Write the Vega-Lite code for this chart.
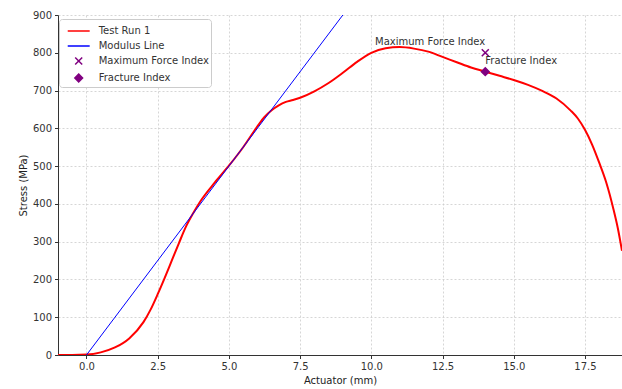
{
  "$schema": "https://vega.github.io/schema/vega-lite/v6.json",
  "width": 564,
  "height": 340,
  "autosize": {"type": "none"},
  "padding": {"left": 58, "top": 15, "right": 0, "bottom": 34},
  "background": "white",
  "config": {
    "font": "DejaVu Sans",
    "view": {"stroke": null},
    "axis": {
      "labelFontSize": 10,
      "titleFontSize": 10,
      "titleFontWeight": "normal",
      "labelColor": "#333",
      "titleColor": "#222",
      "gridColor": "#cccccc",
      "gridDash": [2, 2],
      "gridWidth": 0.8,
      "domainColor": "#333",
      "tickColor": "#333",
      "tickSize": 3.5,
      "labelPadding": 3
    },
    "legend": {
      "labelFontSize": 10,
      "labelColor": "#333",
      "orient": "none",
      "legendX": 1,
      "legendY": 4,
      "padding": 2,
      "strokeColor": "#cccccc",
      "fillColor": "white",
      "cornerRadius": 3,
      "rowPadding": -5.5,
      "symbolOffset": 7.7,
      "labelOffset": 10,
      "symbolSize": 324,
      "symbolStrokeWidth": 1.5
    }
  },
  "datasets": {
    "curve": [
      {"x": -1, "y": 0}, {"x": -0.5, "y": 0}, {"x": 0, "y": 1}, {"x": 0.5, "y": 7},
      {"x": 1, "y": 20}, {"x": 1.5, "y": 44}, {"x": 2, "y": 87}, {"x": 2.25, "y": 120}, {"x": 2.5, "y": 161},
      {"x": 2.75, "y": 205}, {"x": 3, "y": 251}, {"x": 3.25, "y": 297}, {"x": 3.5, "y": 341}, {"x": 3.75, "y": 376},
      {"x": 4, "y": 407}, {"x": 4.5, "y": 456},
      {"x": 5, "y": 501}, {"x": 5.5, "y": 550}, {"x": 6, "y": 605}, {"x": 6.25, "y": 630}, {"x": 6.5, "y": 648},
      {"x": 6.75, "y": 661}, {"x": 7, "y": 670}, {"x": 7.25, "y": 675}, {"x": 7.5, "y": 681}, {"x": 8, "y": 698}, {"x": 8.5, "y": 720},
      {"x": 9, "y": 747}, {"x": 9.5, "y": 776}, {"x": 10, "y": 800}, {"x": 10.5, "y": 812},
      {"x": 11, "y": 815}, {"x": 11.5, "y": 811}, {"x": 12, "y": 803}, {"x": 12.5, "y": 789},
      {"x": 13, "y": 775}, {"x": 13.5, "y": 761}, {"x": 14, "y": 750}, {"x": 14.5, "y": 739},
      {"x": 15, "y": 728}, {"x": 15.5, "y": 715}, {"x": 16, "y": 699}, {"x": 16.5, "y": 679},
      {"x": 17, "y": 647}, {"x": 17.25, "y": 626}, {"x": 17.5, "y": 596}, {"x": 17.75, "y": 557}, {"x": 18, "y": 509},
      {"x": 18.25, "y": 456}, {"x": 18.5, "y": 386}, {"x": 18.65, "y": 337}, {"x": 18.8, "y": 276}
    ],
    "modulus": [{"x": 0, "y": 0}, {"x": 9, "y": 900}],
    "markers": [
      {"x": 14, "y": 800, "series": "Maximum Force Index"},
      {"x": 14, "y": 750, "series": "Fracture Index"}
    ]
  },
  "encoding": {
    "x": {
      "field": "x", "type": "quantitative",
      "scale": {"domain": [-1, 18.8], "nice": false, "zero": false},
      "axis": {"title": "Actuator (mm)", "values": [0, 2.5, 5, 7.5, 10, 12.5, 15, 17.5], "format": ".1f"}
    },
    "y": {
      "field": "y", "type": "quantitative",
      "scale": {"domain": [0, 900], "nice": false},
      "axis": {"title": "Stress (MPa)", "values": [0, 100, 200, 300, 400, 500, 600, 700, 800, 900]}
    }
  },
  "layer": [
    {
      "data": {"name": "curve"},
      "transform": [{"calculate": "'Test Run 1'", "as": "series"}],
      "mark": {"type": "line", "interpolate": "monotone", "strokeWidth": 2, "clip": true},
      "encoding": {
        "color": {"field": "series", "type": "nominal",
          "scale": {"domain": ["Test Run 1", "Modulus Line", "Maximum Force Index", "Fracture Index"], "range": ["#ff0000", "#0000ff", "#800080", "#800080"]},
          "legend": {"title": null}}
      }
    },
    {
      "data": {"name": "modulus"},
      "transform": [{"calculate": "'Modulus Line'", "as": "series"}],
      "mark": {"type": "line", "strokeWidth": 1, "clip": true},
      "encoding": {
        "color": {"field": "series", "type": "nominal", "legend": {"title": null}}
      }
    },
    {
      "data": {"name": "markers"},
      "mark": {"type": "point", "filled": true, "opacity": 1, "strokeWidth": 1.5, "size": 324},
      "encoding": {
        "color": {"field": "series", "type": "nominal", "legend": {"title": null}},
        "stroke": {"field": "series", "type": "nominal",
          "scale": {"domain": ["Test Run 1", "Modulus Line", "Maximum Force Index", "Fracture Index"], "range": ["#ff0000", "#0000ff", "#800080", "#800080"]},
          "legend": {"title": null}},
        "shape": {"field": "series", "type": "nominal",
          "scale": {"domain": ["Test Run 1", "Modulus Line", "Maximum Force Index", "Fracture Index"], "range": ["M-1.22,0L1.22,0", "M-1.22,0L1.22,0", "M-0.39,-0.39L0.39,0.39M-0.39,0.39L0.39,-0.39", "M0,-0.43L0.43,0L0,0.43L-0.43,0Z"]},
          "legend": {"title": null}}
      }
    },
    {
      "data": {"values": [{"x": 14, "y": 828, "label": "Maximum Force Index"}]},
      "mark": {"type": "text", "align": "right", "baseline": "middle", "fontSize": 10, "color": "#333"},
      "encoding": {"text": {"field": "label"}}
    },
    {
      "data": {"values": [{"x": 14, "y": 779, "label": "Fracture Index"}]},
      "mark": {"type": "text", "align": "left", "baseline": "middle", "fontSize": 10, "color": "#333"},
      "encoding": {"text": {"field": "label"}}
    }
  ]
}
